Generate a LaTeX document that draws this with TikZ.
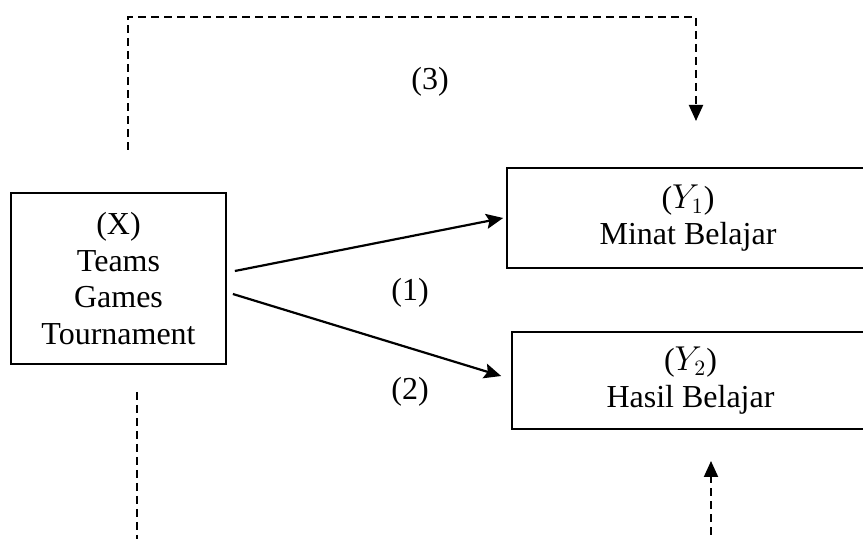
\documentclass[tikz,border=0pt]{standalone}
\usepackage{fontspec}
\setmainfont{Liberation Serif}
\usetikzlibrary{arrows.meta}

\begin{document}
\begin{tikzpicture}[x=0.5pt,y=-0.5pt,
    txt/.style={font=\fontsize{16}{18.2}\selectfont},
    box/.style={draw,line width=0.85pt,align=center,inner sep=0pt,txt},
    path/.style={line width=1.1pt,-{Stealth[length=8.5pt,width=7.5pt,inset=1.5pt]}},
    loop/.style={line width=1pt,dash pattern=on 4pt off 2.5pt,-{Triangle[length=8pt,width=7pt]}}]
    \useasboundingbox (0,0) rectangle (863,539);
    \clip (0,0) rectangle (863,539);
    % boxes
    \node [box,minimum width=107.5pt,minimum height=85.5pt] (X) at (118.5,278.5)
        {(X)\\Teams\\Games\\Tournament};
    \node [box,minimum width=181pt,minimum height=50pt] (Y1) at (688,218)
        {($Y_1$)\\Minat Belajar};
    \node [box,minimum width=178.5pt,minimum height=48.5pt] (Y2) at (690.5,380.5)
        {($Y_2$)\\Hasil Belajar};
    % direct paths
    \draw [path] ([xshift=4pt,yshift=3.75pt]X.east) -- ([xshift=-1.5pt]Y1.west);
    \draw [path] ([xshift=3pt,yshift=-7.75pt]X.east) -- ([xshift=-5pt,yshift=2.25pt]Y2.west);
    \node [txt] at (410,293) {(1)};
    \node [txt] at (410,392) {(2)};
    \node [txt] at (430,82) {(3)};
    % dashed paths
    \coordinate (topL) at (128,150);
    \coordinate (topR) at (696,121);
    \draw [loop] (topL) -- (128,17) -- (696,17) -- (topR);
    \coordinate (botL) at (137,392);
    \coordinate (botR) at (711,461);
    \draw [loop] (botL) -- (137,560) -- (711,560) -- (botR);
\end{tikzpicture}
\end{document}
